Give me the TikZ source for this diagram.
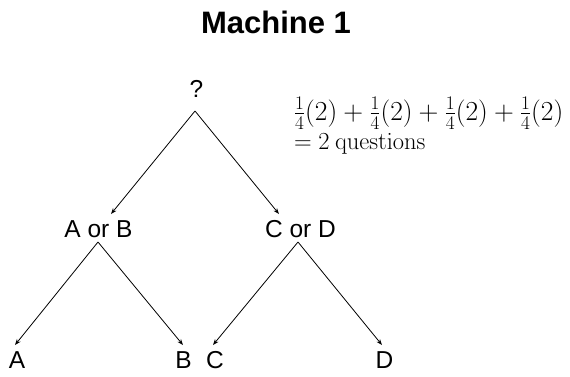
\documentclass[tikz,border=0pt]{standalone}
\usepackage{fix-cm}
\usepackage[no-math]{fontspec}
\setmainfont{Liberation Sans}
\usepackage{tikz}
\usetikzlibrary{positioning,arrows.meta,calc}

\begin{document}
\begin{tikzpicture}[x=1pt, y=-1pt,
    every node/.style={inner sep=0pt, outer sep=0pt},
    lbl/.style={anchor=base, font=\fontsize{24.5}{28}\selectfont},
    arr/.style={-{Stealth[length=6pt,width=4.5pt]}, line width=0.8pt}]
  \useasboundingbox (0,0) rectangle (570,376);
  \node[anchor=base, font=\fontsize{31}{34}\selectfont\bfseries] (title) at (276,33.3) {Machine 1};
  \node[lbl] (q) at (196.5,97) {?};
  \node[lbl] (ab) at (98.5,237.3) {A or B};
  \node[lbl] (cd) at (300.5,237.3) {C or D};
  \node[lbl] (a) at (17,368) {A};
  \node[lbl] (b) at (183.5,368) {B};
  \node[lbl] (c) at (215,368) {C};
  \node[lbl] (d) at (384.5,368) {D};
  \node[anchor=base west, align=left, font=\fontsize{24.5}{29}\selectfont] (sum) at (294,149)
    {{\fontsize{27.5}{29}\selectfont$\frac{1}{4}(2)+\frac{1}{4}(2)+\frac{1}{4}(2)+\frac{1}{4}(2)$}\\
     $=2\:\mathrm{questions}$};
  % root
  \draw[arr] ($(q.base)+(-1.5,14)$) -- ($(ab.base)+(12.5,-23.3)$);
  \draw[arr] ($(q.base)+(-1.5,14)$) -- ($(cd.base)+(-21.5,-23.3)$);
  % second level
  \draw[arr] ($(ab.base)+(-0.5,4.7)$) -- ($(a.base)+(-2,-23)$);
  \draw[arr] ($(ab.base)+(-0.5,4.7)$) -- ($(b.base)+(-0.5,-23)$);
  \draw[arr] ($(cd.base)+(-2.5,4.7)$) -- ($(c.base)+(-2,-23)$);
  \draw[arr] ($(cd.base)+(-2.5,4.7)$) -- ($(d.base)+(-2.5,-23)$);
\end{tikzpicture}
\end{document}
